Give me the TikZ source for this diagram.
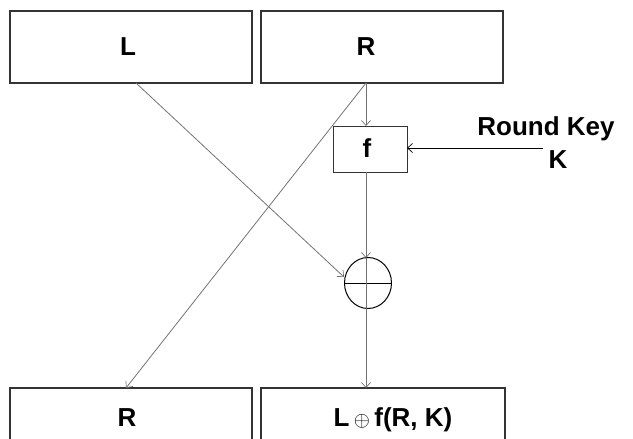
\documentclass[tikz,border=0pt]{standalone}
\usepackage{fontspec}
\setmainfont{Liberation Sans}
\usetikzlibrary{arrows.meta,shapes.geometric}
\begin{document}
\begin{tikzpicture}[x=1pt,y=-1pt,
  box/.style={draw=black!80,line width=1.2pt,inner sep=0pt,outer sep=0pt},
  lbl/.style={font=\bfseries\fontsize{26}{30}\selectfont,inner sep=0pt,anchor=base},
  tip/.style={-{Straight Barb[length=5pt,width=9pt,line width=0.7pt]}},
  conn/.style={draw=black!55,line width=0.8pt,tip},
  keyline/.style={draw=black,line width=1pt,tip},
]
\useasboundingbox (0,0) rectangle (633,439);
\clip (0,0) rectangle (633,439);
% boxes
\node[box,minimum width=242pt,minimum height=72pt] (Ltop) at (131,47) {};
\node[box,minimum width=242pt,minimum height=72pt] (Rtop) at (382,47) {};
\node[box,minimum width=242pt,minimum height=72pt] (Lbot) at (131,424) {};
\node[box,minimum width=244pt,minimum height=72pt] (Rbot) at (383,424) {};
\node[box,line width=1pt,minimum width=74pt,minimum height=46pt] (F) at (370,149) {};
\node[draw=black,line width=1pt,ellipse,minimum width=47pt,minimum height=51pt,inner sep=0pt] (X) at (368,283) {};
% labels
\node[lbl] (tL) at (128,56) {L};
\node[lbl] (tR) at (366,56) {R};
\node[lbl] (tR2) at (127,426) {R};
\node[lbl] (tOut) at (393,426) {L\,{\normalfont\fontsize{22}{24}\selectfont$\oplus$}\,f(R, K)};
\node[lbl] (tF) at (367,157) {f};
\node[lbl] (tKey) at (546,135) {Round Key};
\node[lbl] (tK) at (558,168) {K};
% anchor points
\coordinate (Rout) at (366,83);
\coordinate (Lout) at (136,83);
\coordinate (Fin) at (366,126);
\coordinate (Fout) at (366,172);
\coordinate (Xin) at (366,258);
\coordinate (Xout) at (366,308);
\coordinate (Xleft) at (344,277);
\coordinate (Kstart) at (543,148);
\coordinate (Fright) at (407,148);
\coordinate (RbotIn) at (366,388);
\coordinate (LbotIn) at (126,388);
% inner lines of the circle
\draw[black,line width=1pt] (X.west) -- (X.east);
\draw[black!55,line width=0.8pt] (Xin) -- (Xout);
% connectors
\draw[conn] (Rout) -- (Fin);
\draw[conn] (Fout) -- (Xin);
\draw[conn] (Xout) -- (RbotIn);
\draw[conn] (Lout) -- (Xleft);
\draw[conn] (Rout) -- (LbotIn);
\draw[keyline] (Kstart) -- (Fright);
\end{tikzpicture}
\end{document}
